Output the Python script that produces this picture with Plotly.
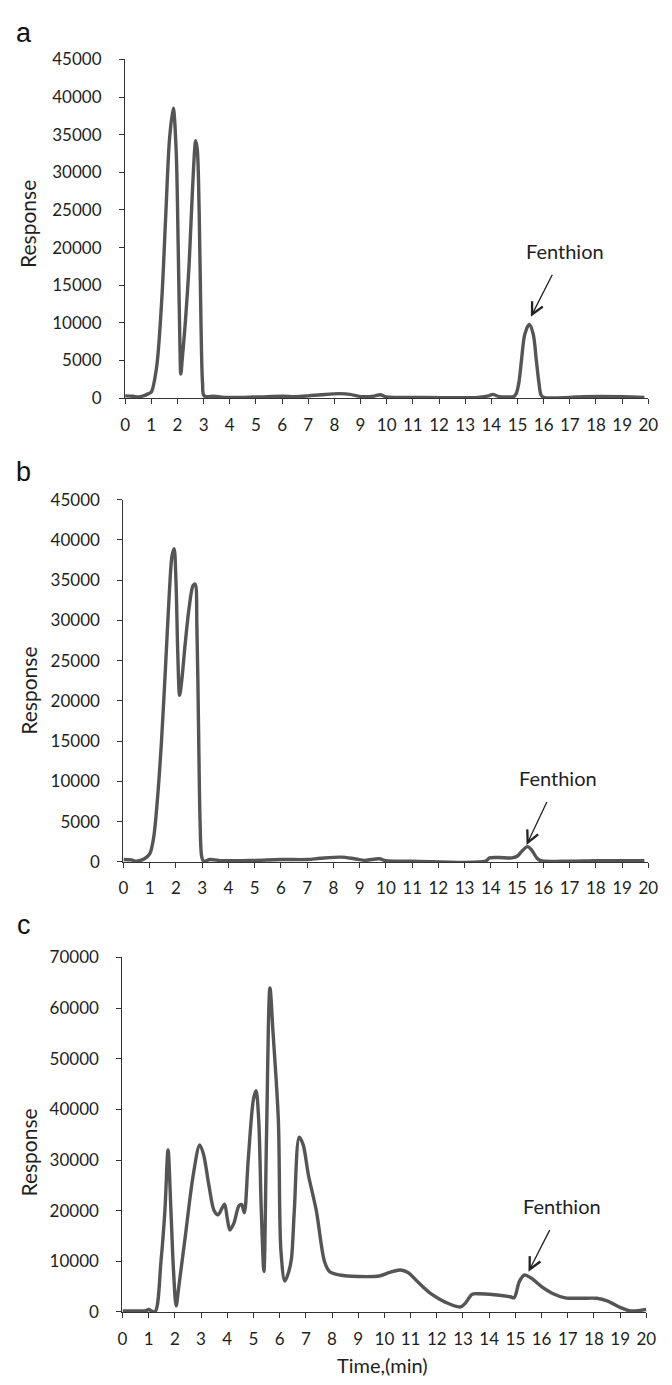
import plotly.graph_objects as go

# ---------------- data ----------------
time_a = [0, 0.3, 0.5, 0.7, 0.9, 1.0, 1.2, 1.4, 1.55, 1.7, 1.84, 1.95, 2.03, 2.09, 2.13, 2.18, 2.3,
          2.45, 2.58, 2.7, 2.76, 2.83, 2.9, 2.96, 3.02, 3.4, 3.8, 5.0, 6.0, 6.5, 7.0, 7.5,
          8.2, 8.6, 9.0, 9.5, 9.75, 10.0, 11.0, 13.5, 13.9, 14.05, 14.3, 14.7, 14.85, 14.95, 15.05,
          15.15, 15.28, 15.45, 15.6, 15.72, 15.82, 15.9, 16.0, 17.0, 17.5, 19.0, 19.85]
resp_a = [300, 250, 150, 300, 600, 800, 4000, 13000, 24000, 34500, 38500, 33000, 20000, 8000, 3200, 5000, 10000,
          18000, 28000, 34200, 33000, 25000, 10000, 2000, 300, 250, 100, 150, 250, 200, 300, 450,
          600, 500, 200, 250, 450, 150, 100, 100, 300, 500, 200, 150, 200, 600, 2000,
          5000, 8500, 9800, 8500, 5000, 2000, 400, 100, 100, 200, 200, 100]

time_b = [0, 0.3, 0.5, 0.8, 1.0, 1.15, 1.3, 1.45, 1.6, 1.75, 1.85, 1.93, 2.0, 2.07, 2.14, 2.22, 2.35, 2.5,
          2.65, 2.73, 2.8, 2.86, 2.92, 2.98, 3.05, 3.3, 3.8, 5.0, 6.0, 7.0, 7.5, 8.3, 8.8, 9.2, 9.75,
          10.0, 11.0, 13.8, 13.95, 14.3, 14.8, 15.0, 15.2, 15.4, 15.55, 15.75, 15.9, 17.0, 18.0, 19.85]
resp_b = [300, 250, 100, 400, 1000, 3000, 8000, 15000, 24000, 33500, 38000, 38900, 35000, 26000, 20700, 22500, 27000, 31500,
          34300, 34500, 29000, 17000, 5000, 700, 100, 300, 150, 200, 300, 300, 450, 600, 400, 200, 400,
          150, 100, 100, 500, 550, 500, 700, 1400, 1900, 1500, 500, 150, 100, 150, 150]

time_c = [0, 0.5, 0.9, 1.0, 1.1, 1.25, 1.47, 1.62, 1.74, 1.85, 1.95, 2.05, 2.15, 2.4, 2.7, 2.95, 3.1, 3.3,
          3.5, 3.65, 3.8, 3.9, 4.0, 4.1, 4.25, 4.45, 4.55, 4.65, 4.8, 5.0, 5.1, 5.2, 5.3, 5.4, 5.5, 5.63,
          5.75, 5.95, 6.05, 6.2, 6.35, 6.45, 6.56, 6.75, 6.9, 7.1, 7.4, 7.71, 7.9, 8.3, 9.0, 9.8, 10.2,
          10.6, 10.9, 11.3, 11.8, 12.3, 12.9, 13.1, 13.35, 13.6, 14.2, 14.8, 14.95, 15.15, 15.35, 15.6,
          16.0, 16.4, 16.9, 17.5, 18.1, 18.5, 19.0, 19.3, 19.6, 20.0]
resp_c = [200, 200, 250, 500, 200, 100, 10000, 20000, 32000, 20000, 8000, 1200, 5000, 15000, 27000, 33000, 31000, 25000,
          20000, 19200, 20500, 21300, 18500, 16200, 17500, 21000, 21200, 19600, 30000, 42000, 43700, 38000, 20000, 8000, 35000, 64000,
          55000, 38000, 12000, 6100, 8000, 10500, 20000, 34500, 33000, 27000, 20000, 10000, 8000, 7300, 7000, 7100, 7800,
          8300, 7800, 5800, 3500, 2000, 1000, 1800, 3500, 3600, 3400, 3000, 2800, 6000, 7300, 6700,
          5000, 3700, 2800, 2700, 2700, 2200, 900, 300, 200, 500]

x_ticks = list(range(0, 21))
y_ticks_ab = list(range(0, 45001, 5000))
y_ticks_c = list(range(0, 70001, 10000))

# Fenthion arrow heads / label positions (data coordinates)
fen_head = [(15.51, 10800), (15.36, 2100), (15.5, 7950)]
fen_text = [(16.8, 19600), (16.57, 10480), (16.78, 20940)]

# ---------------- geometry ----------------
SCREEN_W, SCREEN_H = 672, 1385
OFF = 8                       # default page (body) margin around the plot div
W, H = SCREEN_W - OFF, SCREEN_H - OFF   # figure reaches the window's right/bottom edges


def px(sx):
    return (sx - OFF) / W


def py(sy):
    return 1 - (sy - OFF) / H


LINE = "#555555"
AX = "#333333"
TXT = "#1e1e1e"
TICKFONT = dict(family="Lato", size=17, color=TXT)

fig = go.Figure()
for i, (t, r) in enumerate([(time_a, resp_a), (time_b, resp_b), (time_c, resp_c)]):
    suffix = "" if i == 0 else str(i + 1)
    fig.add_trace(go.Scatter(x=t, y=r, mode="lines", xaxis="x" + suffix, yaxis="y" + suffix,
                             line=dict(color=LINE, width=3.4, shape="spline", smoothing=0.9),
                             showlegend=False, hoverinfo="skip"))

# screen-pixel geometry of the three panels: (x0, x1, ytop, ybottom)
panels = [(122.7, 658, 49, 393), (121, 658, 496, 864), (120, 656, 961, 1321)]
yranges = [[0, 45000], [0, 45000], [0, 70000]]

layout = dict(width=W, height=H, margin=dict(l=0, r=0, t=0, b=0),
              paper_bgcolor="white", plot_bgcolor="white", showlegend=False)
for i, (x0, x1, yt, yb) in enumerate(panels):
    s = "" if i == 0 else str(i + 1)
    layout["xaxis" + s] = dict(domain=[px(x0), px(x1)], range=[0, 20], anchor="y" + s,
                               tickmode="array", tickvals=x_ticks, ticktext=[str(v) for v in x_ticks],
                               showline=True, linecolor=AX, linewidth=1.3, ticks="outside", ticklen=5,
                               tickcolor=AX, tickwidth=1.3, showgrid=False, zeroline=False,
                               tickfont=TICKFONT, ticklabelstandoff=6, ticklabeloverflow="allow")
    yt_vals = y_ticks_ab if i < 2 else y_ticks_c
    layout["yaxis" + s] = dict(domain=[py(yb), py(yt)], range=yranges[i], anchor="x" + s,
                               tickmode="array", tickvals=yt_vals, ticktext=[str(v) for v in yt_vals],
                               showline=True, linecolor=AX, linewidth=1.3, ticks="outside", ticklen=5,
                               tickcolor=AX, tickwidth=1.3, showgrid=False, zeroline=False,
                               tickfont=TICKFONT, ticklabelstandoff=14)
fig.update_layout(**layout)

ann = []
letters = [("a", 22), ("b", 468), ("c", 928)]
for txt, sy in letters:
    ann.append(dict(text=txt, x=px(19), y=py(sy), xref="paper", yref="paper", showarrow=False,
                    xanchor="center", yanchor="middle",
                    font=dict(family="Liberation Sans", size=27, color="#111111")))
for sy in [216, 690, 1159]:
    ann.append(dict(text="Response", x=px(23.5), y=py(sy), xref="paper", yref="paper", showarrow=False,
                    textangle=-90, xanchor="center", yanchor="middle",
                    font=dict(family="Lato", size=21, color=TXT)))
ann.append(dict(text="Time,(min)", x=px(386), y=py(1375), xref="paper", yref="paper", showarrow=False,
                xanchor="center", yanchor="middle", font=dict(family="Lato", size=20, color=TXT)))
for i in range(3):
    s = "" if i == 0 else str(i + 1)
    hx, hy = fen_head[i]
    tx, ty = fen_text[i]
    ann.append(dict(text="Fenthion", x=hx, y=hy, xref="x" + s, yref="y" + s,
                    axref="x" + s, ayref="y" + s, ax=tx, ay=ty, showarrow=True,
                    arrowhead=5, arrowsize=1.8, arrowwidth=1.3, arrowcolor="#222222",
                    startstandoff=12, standoff=0,
                    font=dict(family="Lato", size=20, color=TXT)))
fig.update_layout(annotations=ann)

fig.write_html("out.html")
